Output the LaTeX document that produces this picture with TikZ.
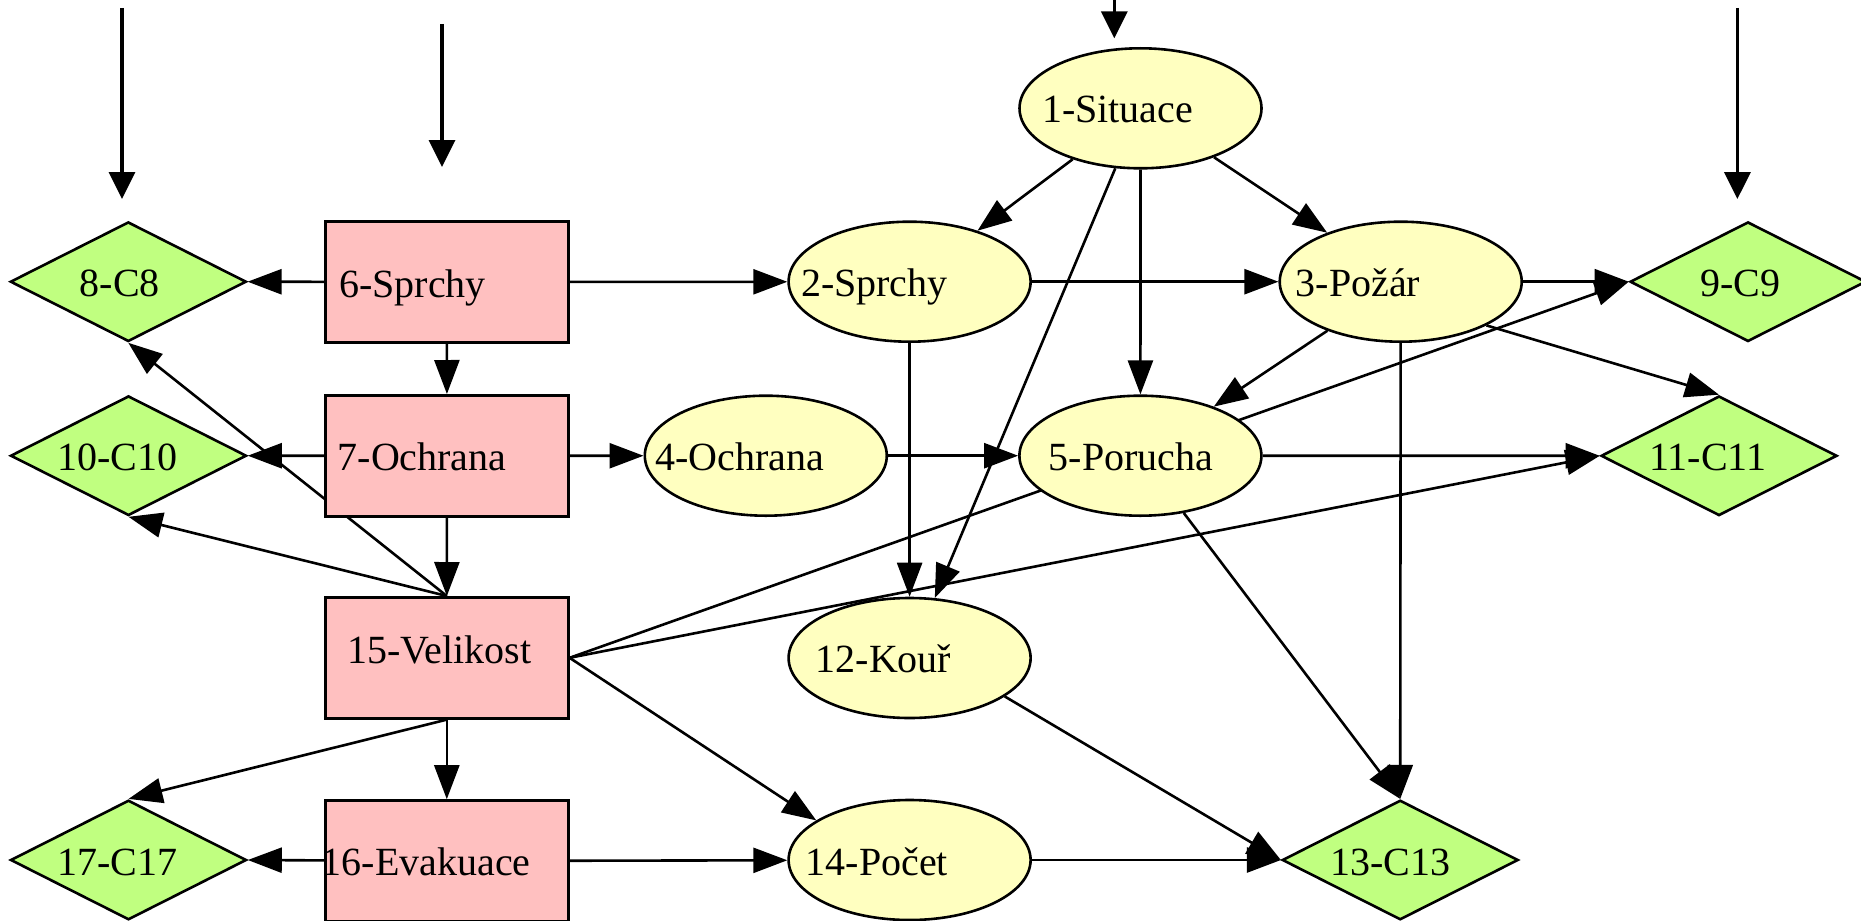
\documentclass[tikz,border=0pt]{standalone}
\usepackage{fontspec}
\setmainfont{Liberation Serif}
\usetikzlibrary{shapes.geometric,arrows.meta}
\pgfdeclarelayer{edges}
\pgfsetlayers{edges,main}
\definecolor{nodepink}{RGB}{255,192,192}
\definecolor{nodeyellow}{RGB}{255,255,192}
\definecolor{nodegreen}{RGB}{192,255,128}
\tikzset{
  txt/.style={font=\fontsize{20pt}{24pt}\selectfont, inner sep=0pt, anchor=base west},
  ell/.style={ellipse, draw, line width=1.3pt, fill=nodeyellow,
    minimum width=121pt, minimum height=60pt, inner sep=0pt},
  box/.style={rectangle, draw, line width=1.3pt, fill=nodepink,
    minimum width=121.5pt, minimum height=60.5pt, inner sep=0pt},
  dia/.style={diamond, draw, line width=1.3pt, fill=nodegreen,
    minimum width=118pt, minimum height=59.8pt, inner sep=0pt},
  edge/.style={line width=1.3pt, -{Triangle[length=17pt,width=12.5pt]}},
  feed/.style={line width=1.8pt, -{Triangle[length=13.5pt,width=13pt]}}
}
\begin{document}
\begin{tikzpicture}[x=0.5pt,y=-0.5pt]
\useasboundingbox (0,0) rectangle (1861,920);

% input arrows without a source
\coordinate (f1a) at (122,8);     \coordinate (f1b) at (122,199);
\coordinate (f2a) at (442,24);    \coordinate (f2b) at (442,167);
\coordinate (f3a) at (1114.3,0);  \coordinate (f3b) at (1114.3,38.3);
\coordinate (f4a) at (1737.4,8);  \coordinate (f4b) at (1737.4,199);

% ellipses
\node[ell] (n1)  at (1140.5,108.3) {};
\node[ell] (n2)  at (909.6,281.7) {};
\node[ell] (n3)  at (1400.7,281.7) {};
\node[ell] (n4)  at (765.8,455.7) {};
\node[ell] (n5)  at (1140.4,455.7) {};
\node[ell] (n12) at (909.6,658) {};
\node[ell] (n14) at (909.6,860) {};

% boxes
\node[box] (n6)  at (446.8,282) {};
\node[box] (n7)  at (447,455.8) {};
\node[box] (n15) at (446.8,657.8) {};
\node[box] (n16) at (446.8,861) {};

% diamonds
\node[dia] (n8)  at (128.3,281.7) {};
\node[dia] (n9)  at (1748,281.7) {};
\node[dia] (n10) at (128.5,455.7) {};
\node[dia] (n11) at (1719,455.8) {};
\node[dia] (n13) at (1400.2,860) {};
\node[dia] (n17) at (128.5,860) {};

% labels, set from the left at a common baseline offset
\node[txt, xshift=-49.45pt, yshift=-7.2pt] (t1)  at (n1)  {1-Situace};
\node[txt, xshift=-54.45pt, yshift=-7.5pt] (t2)  at (n2)  {2-Sprchy};
\node[txt, xshift=-52.65pt, yshift=-7.5pt] (t3)  at (n3)  {3-Požár};
\node[txt, xshift=-55.4pt,  yshift=-7.2pt] (t4)  at (n4)  {4-Ochrana};
\node[txt, xshift=-46.05pt, yshift=-7.2pt] (t5)  at (n5)  {5-Porucha};
\node[txt, xshift=-47.15pt, yshift=-7.2pt] (t12) at (n12) {12-Kouř};
\node[txt, xshift=-52.1pt,  yshift=-7.5pt] (t14) at (n14) {14-Počet};
\node[txt, xshift=-53.95pt, yshift=-7.5pt] (t6)  at (n6)  {6-Sprchy};
\node[txt, xshift=-54.85pt, yshift=-7.2pt] (t7)  at (n7)  {7-Ochrana};
\node[txt, xshift=-50.1pt,  yshift=-3pt]   (t15) at (n15) {15-Velikost};
\node[txt, xshift=-62.7pt,  yshift=-7pt]   (t16) at (n16) {16-Evakuace};
\node[txt, xshift=-24.4pt,  yshift=-7.5pt] (t8)  at (n8)  {8-C8};
\node[txt, xshift=-24.1pt,  yshift=-7.5pt] (t9)  at (n9)  {9-C9};
\node[txt, xshift=-35.7pt,  yshift=-7.2pt] (t10) at (n10) {10-C10};
\node[txt, xshift=-35.05pt, yshift=-7.2pt] (t11) at (n11) {11-C11};
\node[txt, xshift=-35.2pt,  yshift=-7.5pt] (t13) at (n13) {13-C13};
\node[txt, xshift=-35.8pt,  yshift=-7.5pt] (t17) at (n17) {17-C17};

\begin{pgfonlayer}{edges}
  \draw[feed] (f1a) -- (f1b);
  \draw[feed] (f2a) -- (f2b);
  \draw[feed] (f3a) -- (f3b);
  \draw[feed] (f4a) -- (f4b);

  \draw[edge] (n1) -- (n2);
  \draw[edge] (n1) -- (n3);
  \draw[edge] (n1) -- (n5);
  \draw[edge] (n1) -- (n12);
  \draw[edge] (n2) -- (n3);
  \draw[edge] (n2) -- (n12);
  \draw[edge] (n3) -- (n9.west);
  \draw[edge] (n3) -- (n5);
  \draw[edge] (n3.-27.6) -- (n11.north);
  \draw[edge] (n3) -- (n13.north);
  \draw[edge] (n4) -- (n5);
  \draw[edge] (n5) -- (n11.west);
  \draw[edge] (n5) -- (n13.north);
  \draw[edge] (n6) -- (n8.east);
  \draw[edge] (n6) -- (n2);
  \draw[edge] (n6) -- (n7);
  \draw[edge] (n7) -- (n10.east);
  \draw[edge] (n7) -- (n4);
  \draw[edge] (n7) -- (n15);
  \draw[edge] (n15.north) -- (n8.south);
  \draw[edge] (n15.north) -- (n10.south);
  \draw[edge] (n15.east) -- (n9.west);
  \draw[edge] (n15.east) -- (n11.west);
  \draw[edge] (n15.east) -- (n14.157);
  \draw[edge] (n15) -- (n16);
  \draw[edge] (n15.south) -- (n17.north);
  \draw[edge] (n16) -- (n17.east);
  \draw[edge] (n16) -- (n14);
  \draw[edge] (n12.-22) -- (n13.west);
  \draw[edge] (n14) -- (n13.west);
\end{pgfonlayer}
\end{tikzpicture}
\end{document}
